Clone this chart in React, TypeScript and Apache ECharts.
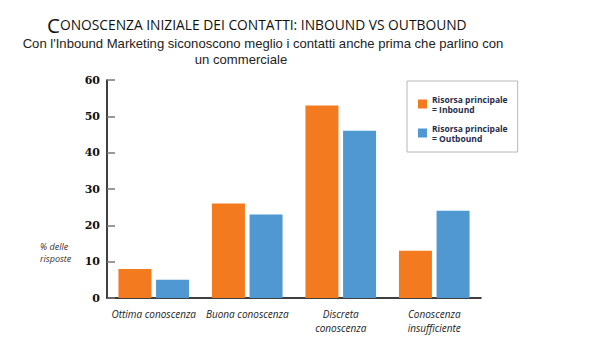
import React, { useEffect, useRef } from "react";
import * as echarts from "echarts";

const categories = ["Ottima conoscenza", "Buona conoscenza", "Discreta\nconoscenza", "Conoscenza\ninsufficiente"];
const inbound = [8, 26, 53, 13];
const outbound = [5, 23, 46, 24];
const seriesNames = ["Risorsa principale\n= Inbound", "Risorsa principale\n= Outbound"];
const titleFirst = "C";
const titleRest = "ONOSCENZA INIZIALE DEI CONTATTI: INBOUND VS OUTBOUND";
const subtitleLine1 = "Con l'Inbound Marketing siconoscono meglio i contatti anche prima che parlino con";
const subtitleLine2 = "un commerciale";
const yAxisName = "% delle\nrisposte";

export default function App() {
  const ref = useRef<HTMLDivElement>(null);
  useEffect(() => {
    const chart = echarts.init(ref.current!, null, { renderer: "svg" });
    chart.setOption({
      animation: false,
      backgroundColor: "#ffffff",
      title: {
        text: "{big|" + titleFirst + "}{rest|" + titleRest + "}",
        left: 42,
        top: 9,
        textStyle: {
          fontWeight: "normal",
          rich: {
            big: { fontSize: 20.5, fontFamily: "Open Sans", fontWeight: "normal", color: "#111" },
            rest: { fontSize: 13.8, fontFamily: "Open Sans", fontWeight: "normal", color: "#111" },
          },
        },
      },
      legend: {
        orient: "vertical",
        left: 407,
        top: 81,
        padding: [13, 10, 9, 11],
        itemWidth: 9,
        itemHeight: 9,
        itemGap: 9,
        borderColor: "#b8b8b8",
        borderWidth: 1,
        icon: "rect",
        data: seriesNames,
        textStyle: { fontSize: 8.5, fontWeight: "bold", fontFamily: "Open Sans", color: "#1f2d4d", lineHeight: 10 },
      },
      grid: { left: 107, right: 114, top: 80, bottom: 58, containLabel: false },
      xAxis: {
        type: "category",
        data: categories,
        axisLine: { lineStyle: { color: "#000", width: 1.5 } },
        axisTick: { inside: true, length: 6, lineStyle: { color: "#000" } },
        axisLabel: { fontSize: 10, fontStyle: "italic", fontFamily: "Open Sans", color: "#222", margin: 9, lineHeight: 14, interval: 0 },
      },
      yAxis: {
        type: "value",
        min: 0,
        max: 60,
        interval: 10,
        splitLine: { show: false },
        axisLine: { show: true, lineStyle: { color: "#000", width: 1.5 } },
        axisTick: { show: true, inside: true, length: 8, lineStyle: { color: "#777", width: 1.5 } },
        axisLabel: { fontSize: 11, fontWeight: "bold", fontFamily: "DejaVu Serif", color: "#111", margin: 7 },
      },
      graphic: [
        {
          type: "text",
          x: 263,
          y: 37,
          style: { text: subtitleLine1, fontSize: 13.1, fontFamily: "Liberation Sans", fill: "#222", align: "center", verticalAlign: "top" },
        },
        {
          type: "text",
          x: 241,
          y: 53,
          style: { text: subtitleLine2, fontSize: 13.1, fontFamily: "Liberation Sans", fill: "#222", align: "center", verticalAlign: "top" },
        },
        {
          type: "text",
          x: 40,
          y: 240,
          style: { text: yAxisName, fontSize: 9, fontStyle: "italic", fontFamily: "Open Sans", fill: "#333", lineHeight: 12 },
        },
      ],
      series: [
        { name: seriesNames[0], type: "bar", data: inbound, barWidth: 33, barGap: "14%", itemStyle: { color: "#f47a20" } },
        { name: seriesNames[1], type: "bar", data: outbound, barWidth: 33, itemStyle: { color: "#4f98d2" } },
      ],
    });
    return () => chart.dispose();
  }, []);
  return <div ref={ref} style={{ width: 595, height: 356, position: "absolute", left: 0, top: 0 }} />;
}
